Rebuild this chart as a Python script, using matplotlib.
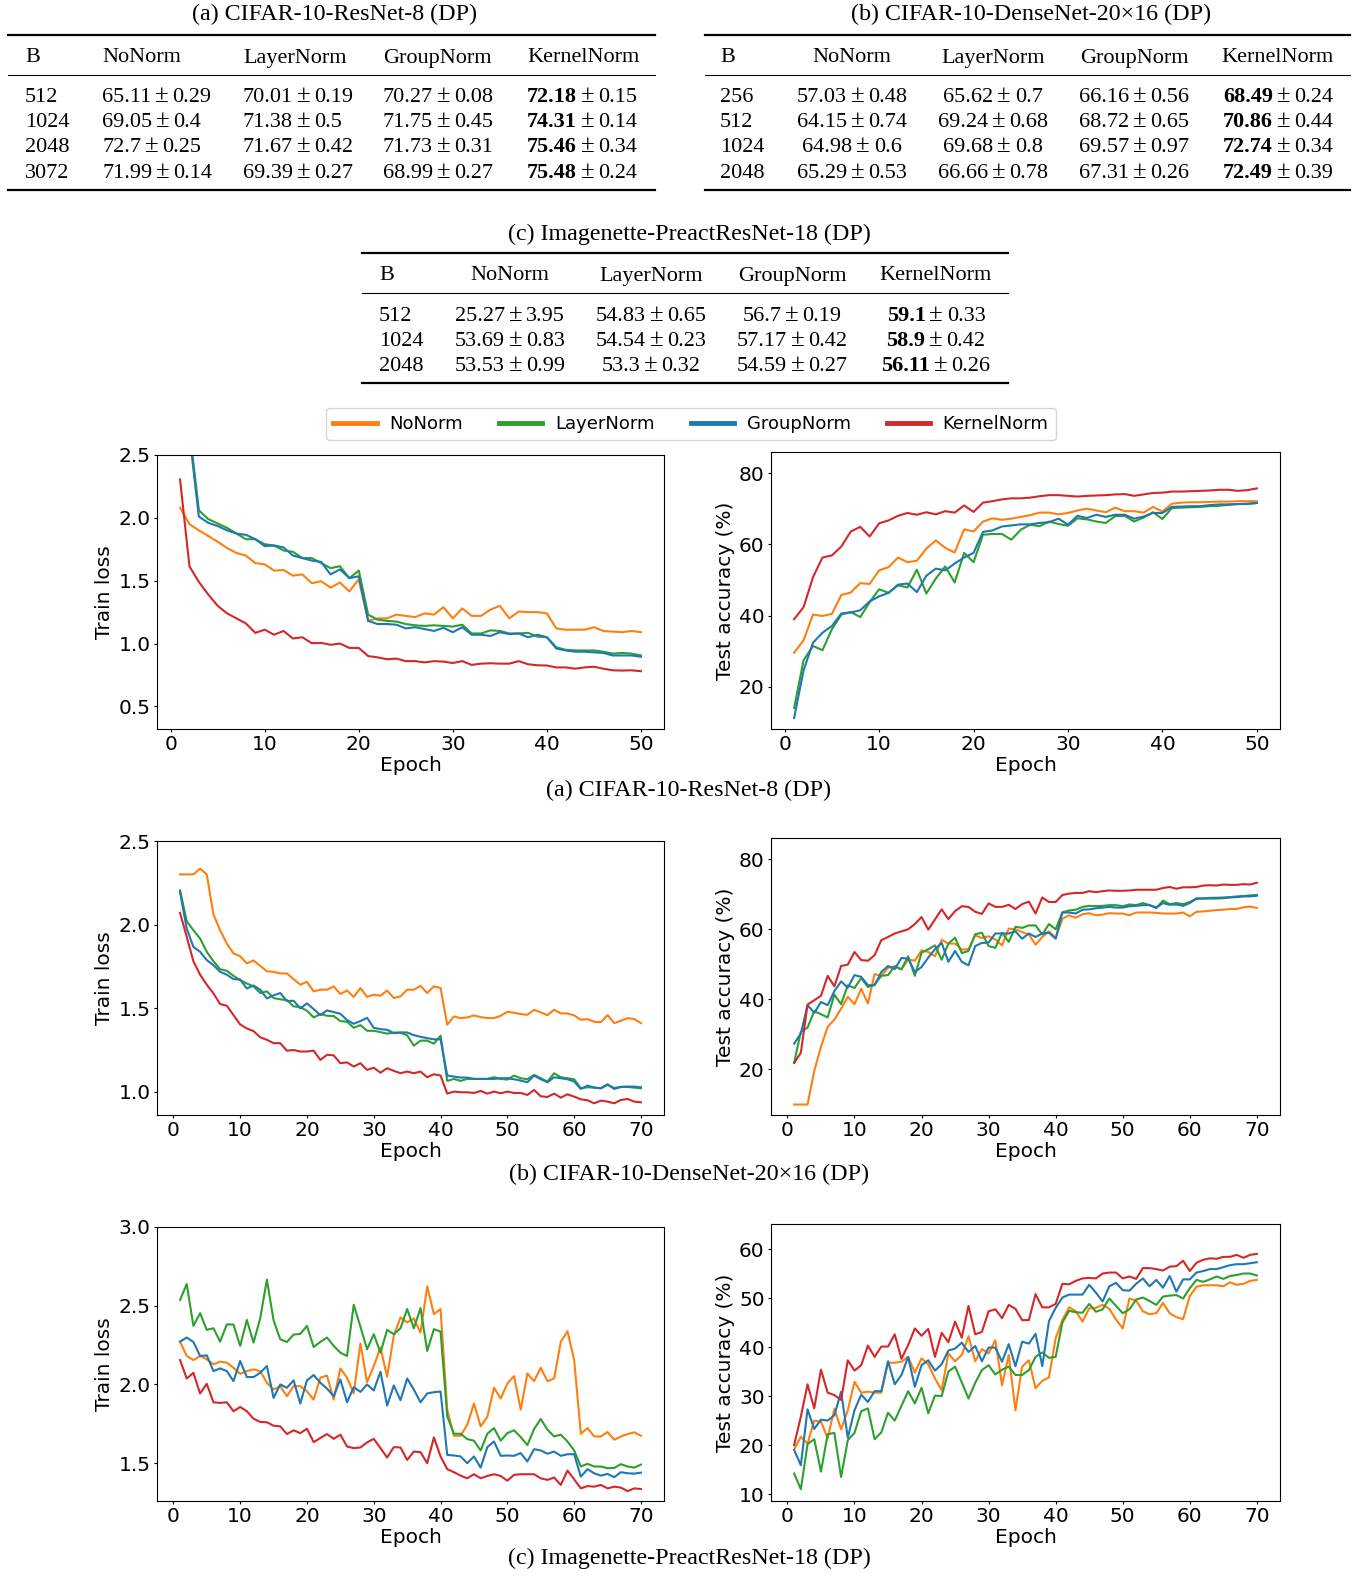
import numpy as np
import matplotlib
matplotlib.use("Agg")
import matplotlib.pyplot as plt
from matplotlib.lines import Line2D

# ---------------- data ----------------
norms = ["NoNorm", "LayerNorm", "GroupNorm", "KernelNorm"]
colors = ["#ff7f0e", "#2ca02c", "#1f77b4", "#d62728"]

tab_header = ["B", "NoNorm", "LayerNorm", "GroupNorm", "KernelNorm"]
tab_a_titles = "(a) CIFAR-10-ResNet-8 (DP)"
tab_b_titles = "(b) CIFAR-10-DenseNet-20\u00d716 (DP)"
tab_c_titles = "(c) Imagenette-PreactResNet-18 (DP)"

tab_a_B = ["512", "1024", "2048", "3072"]
tab_a_no = ["65.11\u00b10.29", "69.05\u00b10.4", "72.7\u00b10.25", "71.99\u00b10.14"]
tab_a_ln = ["70.01\u00b10.19", "71.38\u00b10.5", "71.67\u00b10.42", "69.39\u00b10.27"]
tab_a_gn = ["70.27\u00b10.08", "71.75\u00b10.45", "71.73\u00b10.31", "68.99\u00b10.27"]
tab_a_kn = ["72.18\u00b10.15", "74.31\u00b10.14", "75.46\u00b10.34", "75.48\u00b10.24"]

tab_b_B = ["256", "512", "1024", "2048"]
tab_b_no = ["57.03\u00b10.48", "64.15\u00b10.74", "64.98\u00b10.6", "65.29\u00b10.53"]
tab_b_ln = ["65.62\u00b10.7", "69.24\u00b10.68", "69.68\u00b10.8", "66.66\u00b10.78"]
tab_b_gn = ["66.16\u00b10.56", "68.72\u00b10.65", "69.57\u00b10.97", "67.31\u00b10.26"]
tab_b_kn = ["68.49\u00b10.24", "70.86\u00b10.44", "72.74\u00b10.34", "72.49\u00b10.39"]

tab_c_B = ["512", "1024", "2048"]
tab_c_no = ["25.27\u00b13.95", "53.69\u00b10.83", "53.53\u00b10.99"]
tab_c_ln = ["54.83\u00b10.65", "54.54\u00b10.23", "53.3\u00b10.32"]
tab_c_gn = ["56.7\u00b10.19", "57.17\u00b10.42", "54.59\u00b10.27"]
tab_c_kn = ["59.1\u00b10.33", "58.9\u00b10.42", "56.11\u00b10.26"]

# (a) CIFAR-10-ResNet-8, 50 epochs
loss_a_no = [2.08,1.95,1.90,1.856,1.81,1.76,1.72,1.70,1.64,1.63,
             1.58,1.585,1.54,1.55,1.48,1.495,1.445,1.485,1.415,1.51,
             1.18,1.20,1.20,1.23,1.22,1.21,1.24,1.23,1.29,1.20,
             1.28,1.22,1.22,1.27,1.30,1.20,1.255,1.25,1.25,1.24,
             1.12,1.11,1.11,1.11,1.13,1.10,1.095,1.09,1.10,1.09]
loss_a_ln = [3.0,2.71,2.06,1.99,1.955,1.92,1.875,1.83,1.83,1.79,
             1.78,1.74,1.73,1.68,1.68,1.64,1.60,1.615,1.52,1.58,
             1.23,1.19,1.18,1.175,1.155,1.145,1.14,1.145,1.14,1.135,
             1.15,1.08,1.08,1.105,1.10,1.08,1.08,1.085,1.055,1.05,
             0.97,0.95,0.945,0.945,0.945,0.935,0.92,0.925,0.92,0.905]
loss_a_gn = [2.95,2.66,2.01,1.96,1.935,1.90,1.875,1.865,1.83,1.775,
             1.78,1.765,1.70,1.68,1.66,1.65,1.55,1.59,1.52,1.535,
             1.18,1.155,1.155,1.15,1.12,1.13,1.115,1.10,1.125,1.09,
             1.13,1.07,1.07,1.06,1.09,1.075,1.08,1.05,1.07,1.05,
             0.96,0.945,0.935,0.935,0.93,0.925,0.905,0.905,0.905,0.895]
loss_a_kn = [2.306,1.614,1.49,1.39,1.30,1.24,1.20,1.16,1.085,1.11,
             1.07,1.10,1.04,1.05,1.003,1.005,0.99,1.0,0.965,0.965,
             0.90,0.89,0.875,0.88,0.86,0.86,0.85,0.86,0.856,0.845,
             0.86,0.83,0.84,0.843,0.84,0.84,0.86,0.835,0.827,0.825,
             0.81,0.81,0.80,0.81,0.815,0.80,0.787,0.785,0.787,0.78]
acc_a_no = [29.6,33.1,40.3,39.9,40.5,45.8,46.5,49.1,48.9,52.7,
            53.6,56.3,55.0,55.4,58.8,61.1,59.0,57.7,64.2,63.6,
            66.4,67.3,66.9,67.2,67.7,68.2,68.9,68.9,68.4,68.8,
            69.5,70.0,69.5,69.0,70.3,69.3,69.3,68.9,70.5,69.2,
            71.4,71.7,71.8,71.8,71.9,72.0,72.0,72.1,72.1,72.1]
acc_a_ln = [14.1,27.5,31.5,30.3,36.2,40.3,41.0,39.6,43.8,47.4,
            46.4,48.5,47.9,52.9,46.2,50.4,53.8,49.3,57.6,55.0,
            62.7,62.9,62.9,61.3,64.1,65.5,65.1,66.4,65.7,65.2,
            67.3,67.0,66.4,66.0,67.9,68.0,66.4,67.5,69.0,67.1,
            70.2,70.3,70.4,70.5,70.7,70.8,71.1,71.3,71.3,71.6]
acc_a_gn = [11.3,24.7,32.4,35.2,37.1,40.6,40.9,41.5,44.0,45.4,
            46.4,48.7,49.0,46.6,51.2,53.2,52.7,54.6,56.3,57.6,
            63.5,63.9,65.0,65.3,65.6,65.6,66.0,66.2,67.2,65.5,
            68.0,67.4,68.3,67.7,68.3,68.3,67.2,67.8,68.8,68.8,
            70.5,70.6,70.7,70.7,71.0,71.2,71.2,71.3,71.4,71.6]
acc_a_kn = [39.0,42.4,50.8,56.3,56.9,59.4,63.6,64.9,62.2,65.9,
            66.7,68.0,68.8,68.3,69.0,68.4,69.3,68.9,70.9,69.1,
            71.7,72.1,72.6,72.9,72.9,73.1,73.5,73.8,73.8,73.6,
            73.4,73.6,73.7,73.8,74.0,74.1,73.6,74.0,74.4,74.5,
            74.8,74.8,74.9,75.0,75.1,75.3,75.3,75.0,75.2,75.7]

# (b) CIFAR-10-DenseNet-20x16, 70 epochs
loss_b_no = [2.30,2.30,2.30,2.335,2.30,2.06,1.966,1.886,1.827,1.81,
             1.767,1.785,1.753,1.72,1.717,1.707,1.707,1.673,1.64,1.657,
             1.60,1.61,1.61,1.63,1.584,1.605,1.566,1.62,1.567,1.58,
             1.574,1.605,1.56,1.57,1.61,1.61,1.633,1.59,1.63,1.62,
             1.40,1.45,1.44,1.444,1.456,1.446,1.44,1.44,1.454,1.478,
             1.472,1.464,1.46,1.49,1.474,1.458,1.49,1.468,1.468,1.456,
             1.43,1.434,1.418,1.416,1.458,1.41,1.424,1.44,1.434,1.41]
loss_b_ln = [2.205,2.02,1.966,1.916,1.837,1.78,1.733,1.723,1.693,1.667,
             1.647,1.63,1.59,1.60,1.56,1.552,1.548,1.51,1.506,1.484,
             1.444,1.464,1.454,1.452,1.422,1.418,1.382,1.398,1.364,1.364,
             1.356,1.347,1.353,1.353,1.337,1.275,1.305,1.305,1.287,1.335,
             1.064,1.076,1.064,1.076,1.076,1.076,1.076,1.086,1.076,1.072,
             1.096,1.08,1.074,1.10,1.08,1.06,1.11,1.086,1.08,1.074,
             1.02,1.026,1.024,1.02,1.04,1.022,1.028,1.028,1.024,1.02]
loss_b_gn = [2.195,1.976,1.866,1.837,1.787,1.757,1.717,1.70,1.673,1.671,
             1.617,1.635,1.61,1.558,1.576,1.59,1.542,1.544,1.498,1.528,
             1.494,1.458,1.486,1.476,1.466,1.428,1.406,1.422,1.442,1.382,
             1.374,1.37,1.35,1.354,1.354,1.338,1.328,1.32,1.313,1.313,
             1.096,1.09,1.084,1.084,1.076,1.076,1.076,1.076,1.08,1.08,
             1.074,1.066,1.056,1.096,1.074,1.056,1.086,1.08,1.074,1.06,
             1.016,1.036,1.024,1.02,1.044,1.016,1.028,1.03,1.03,1.026]
loss_b_kn = [2.07,1.926,1.78,1.70,1.64,1.588,1.524,1.514,1.458,1.402,
             1.378,1.362,1.325,1.31,1.29,1.29,1.245,1.249,1.24,1.24,
             1.245,1.19,1.22,1.217,1.17,1.175,1.15,1.17,1.13,1.143,
             1.113,1.14,1.124,1.11,1.12,1.11,1.12,1.086,1.104,1.096,
             0.988,1.0,0.996,0.996,0.992,1.004,0.988,1.0,0.99,1.0,
             0.992,0.992,0.98,1.01,0.972,0.968,0.988,0.964,0.984,0.97,
             0.954,0.948,0.93,0.946,0.94,0.93,0.95,0.956,0.94,0.936]
acc_b_no = [9.9,9.9,9.9,19.5,26.4,32.1,34.2,37.3,40.7,38.6,
            43.0,38.8,47.2,46.7,49.0,49.4,48.6,51.4,51.0,54.0,
            53.5,52.3,57.0,55.9,55.9,54.2,54.3,58.3,57.5,58.0,
            57.1,55.4,60.2,60.0,59.2,58.5,55.6,57.8,59.4,57.5,
            63.0,64.0,63.3,64.3,64.6,64.0,64.2,64.6,64.5,64.5,
            64.0,64.8,64.8,64.8,64.7,64.5,64.5,64.5,64.8,63.7,
            65.0,65.1,65.3,65.5,65.6,65.8,65.8,66.3,66.5,66.1]
acc_b_ln = [21.8,30.7,31.9,36.6,35.7,34.8,41.3,38.6,44.0,43.2,
            46.1,43.5,44.2,46.7,46.9,49.4,48.5,52.3,46.7,53.3,
            54.3,55.4,51.3,55.9,57.6,53.2,53.8,58.6,59.0,55.2,
            54.7,59.0,56.4,60.7,60.4,61.1,61.1,58.5,61.5,60.0,
            64.8,65.4,65.6,66.4,66.7,66.6,66.7,66.9,66.9,66.6,
            67.1,66.9,67.5,66.9,66.1,68.2,67.2,67.5,67.2,67.8,
            68.8,68.8,69.0,69.0,69.1,69.2,69.4,69.5,69.7,69.8]
acc_b_gn = [27.3,30.2,38.3,36.1,39.2,38.3,42.3,45.1,43.3,46.9,
            46.4,44.0,44.0,47.8,49.5,48.6,51.8,51.6,47.8,49.2,
            51.9,54.3,56.1,50.7,53.8,50.7,49.7,55.2,56.1,56.2,
            58.8,58.8,58.8,59.4,57.3,58.8,57.8,58.8,59.0,57.3,
            64.8,64.8,64.5,65.6,65.7,66.0,66.2,66.4,66.2,66.2,
            66.6,66.7,66.9,66.9,66.2,67.5,67.0,67.1,66.7,67.5,
            68.8,68.8,68.8,68.8,68.9,69.1,69.2,69.4,69.4,69.6]
acc_b_kn = [21.8,24.7,38.5,39.7,41.0,46.7,43.7,49.5,49.9,53.5,
            51.2,51.0,52.6,56.9,57.8,58.8,59.4,60.0,61.5,63.5,
            59.9,62.8,65.7,62.9,65.2,66.6,66.4,65.0,64.4,67.4,
            66.4,66.4,67.0,65.8,67.2,67.9,64.5,69.1,67.8,67.8,
            69.8,70.2,70.4,70.4,70.9,70.6,70.9,71.1,71.0,71.0,
            71.1,71.3,71.3,71.3,71.3,71.8,72.1,71.6,72.0,72.0,
            72.1,72.5,72.6,72.5,72.8,72.7,72.7,72.9,72.8,73.3]

# (c) Imagenette-PreactResNet-18, 70 epochs
loss_c_no = [2.272,2.181,2.155,2.181,2.16,2.128,2.145,2.138,2.106,2.068,
             2.085,2.096,2.085,2.011,1.968,1.989,1.926,1.989,1.989,1.957,
             1.904,2.043,2.057,1.904,2.102,2.043,1.943,2.26,2.015,2.117,
             2.234,2.049,2.309,2.426,2.394,2.419,2.33,2.623,2.447,2.479,
             1.84,1.674,1.674,1.745,1.879,1.734,1.794,1.979,1.911,2.006,
             2.053,1.84,2.07,2.021,2.106,2.021,2.038,2.272,2.338,2.155,
             1.687,1.723,1.67,1.67,1.698,1.649,1.67,1.685,1.696,1.674]
loss_c_ln = [2.536,2.638,2.372,2.453,2.347,2.357,2.272,2.381,2.381,2.245,
             2.41,2.266,2.42,2.666,2.408,2.287,2.27,2.317,2.321,2.372,
             2.238,2.27,2.298,2.245,2.202,2.181,2.506,2.368,2.223,2.319,
             2.202,2.347,2.319,2.357,2.479,2.357,2.485,2.213,2.351,2.336,
             1.798,1.687,1.687,1.653,1.643,1.581,1.687,1.723,1.643,1.691,
             1.709,1.666,1.615,1.717,1.781,1.713,1.670,1.681,1.638,1.581,
             1.479,1.496,1.479,1.479,1.468,1.47,1.494,1.479,1.472,1.491]
loss_c_gn = [2.272,2.298,2.27,2.181,2.185,2.085,2.102,2.085,2.021,2.149,
             2.047,2.047,2.074,2.117,1.915,2.0,1.979,2.026,1.879,2.026,
             2.06,2.011,1.974,1.926,2.032,1.887,1.983,1.953,2.0,1.962,
             2.081,1.866,1.994,1.9,2.038,1.968,1.887,1.943,1.951,1.955,
             1.553,1.549,1.543,1.50,1.543,1.472,1.602,1.638,1.547,1.549,
             1.547,1.564,1.511,1.589,1.581,1.560,1.574,1.547,1.557,1.557,
             1.415,1.462,1.436,1.421,1.432,1.411,1.443,1.436,1.434,1.440]
loss_c_kn = [2.155,2.038,2.074,1.943,2.004,1.887,1.883,1.887,1.83,1.857,
             1.83,1.783,1.762,1.76,1.738,1.734,1.685,1.709,1.691,1.719,
             1.634,1.66,1.685,1.655,1.681,1.606,1.596,1.60,1.632,1.655,
             1.596,1.536,1.602,1.60,1.521,1.574,1.57,1.50,1.664,1.543,
             1.462,1.443,1.421,1.404,1.43,1.404,1.419,1.43,1.419,1.389,
             1.426,1.43,1.43,1.43,1.404,1.394,1.409,1.362,1.453,1.398,
             1.34,1.355,1.351,1.362,1.34,1.351,1.345,1.323,1.34,1.336]
acc_c_no = [19.1,21.7,20.3,25.0,24.8,21.4,27.4,23.2,27.1,32.9,
            30.7,30.9,30.7,30.7,36.8,36.8,37.0,38.0,34.8,37.7,
            36.5,33.6,31.2,38.7,37.1,38.4,42.2,37.1,39.6,38.7,
            41.4,32.2,38.4,27.1,36.0,37.3,31.6,33.1,33.8,41.8,
            45.5,48.1,47.3,45.2,47.9,48.0,48.6,47.8,45.6,43.8,
            49.9,49.5,47.3,46.7,46.9,49.0,46.9,46.1,45.7,50.4,
            52.3,52.6,52.6,52.6,52.4,53.2,52.7,52.9,53.5,53.7]
acc_c_ln = [14.2,11.0,20.2,21.2,14.6,22.2,22.5,13.5,21.0,22.5,
            26.9,27.5,21.2,22.6,26.6,25.0,28.0,31.0,28.5,31.7,
            26.5,30.1,30.0,35.0,36.0,32.8,29.5,32.7,35.3,36.3,
            34.4,35.4,36.0,34.3,34.3,35.3,38.0,38.9,37.8,38.0,
            45.0,47.4,47.1,47.0,48.8,47.2,47.7,49.9,48.4,46.9,
            47.7,49.7,50.1,49.4,48.6,50.3,50.5,50.6,49.9,52.0,
            53.7,53.3,53.8,54.4,53.9,54.5,54.7,55.0,55.0,54.6]
acc_c_gn = [19.0,15.9,27.3,23.3,25.2,25.0,26.1,30.9,21.5,27.1,
            30.3,28.8,31.0,31.0,37.1,32.4,34.3,38.0,31.9,36.3,
            37.3,35.2,36.5,39.3,39.7,40.9,39.0,40.2,37.1,39.9,
            39.9,37.0,40.6,36.1,41.1,40.7,42.7,36.1,45.3,48.0,
            50.1,50.7,50.7,50.7,52.7,51.1,49.3,52.4,53.1,51.6,
            51.5,52.9,54.0,52.4,53.7,52.1,54.5,51.3,53.8,53.8,
            55.2,55.5,55.9,55.9,56.3,56.7,56.9,56.9,57.1,57.3]
acc_c_kn = [20.0,25.8,32.4,27.5,35.4,30.7,30.2,29.2,37.3,35.2,
            36.3,40.3,38.0,40.1,40.1,42.6,37.6,40.4,43.8,42.3,
            43.7,38.0,42.9,41.0,45.2,41.9,48.4,42.6,43.1,47.3,
            47.7,45.9,48.6,47.8,45.5,45.5,50.8,48.1,48.1,48.8,
            52.9,52.8,53.5,54.0,54.1,54.0,55.0,55.2,55.2,54.0,
            54.4,53.9,56.1,56.1,55.9,55.6,56.4,56.5,57.6,55.5,
            57.2,57.8,58.1,58.0,58.4,58.4,58.8,58.2,58.8,59.0]

# ---------------- figure ----------------
W, H = 1366, 1576
DPI = 100
fig = plt.figure(figsize=(W / DPI, H / DPI), dpi=DPI)
renderer = fig.canvas.get_renderer()

def fx(x):
    return x / W

def fy(y):
    return 1 - y / H

SERIF = ["Liberation Serif", "DejaVu Serif"]
TFS = 16      # table cell size
CFS = 17.3    # caption size
TICKFS = 14.5
PM_SIZE = TFS * 1.12
PM_GAP = TFS * DPI / 72 * 3 / 18
DY = 3    # vertical nudge for header text
BASE = 5  # baseline offset for row text

def hline(x0, x1, y, lw):
    fig.add_artist(Line2D([fx(x0), fx(x1)], [fy(y), fy(y)],
                          transform=fig.transFigure, color="black", lw=lw))

def txt(x, y, s, ha="left", weight="normal", size=TFS, va="center"):
    return fig.text(fx(x), fy(y), s, ha=ha, va=va, family=SERIF,
                    fontsize=size, fontweight=weight)

def value_cell(x, y, s, ha, bold_mean=False):
    mean, std = s.split("\u00b1")
    parts = [(mean, "bold" if bold_mean else "normal", TFS, PM_GAP),
             ("\u00b1", "normal", PM_SIZE, PM_GAP),
             (std, "normal", TFS, 0)]
    objs = []
    total = 0
    for p, wgt, size, gap in parts:
        t = fig.text(0, fy(y + BASE), p, va="baseline", family=SERIF,
                     fontsize=size, fontweight=wgt)
        w = t.get_window_extent(renderer).width
        objs.append((t, w, gap))
        total += w + gap
    x0 = x if ha == "left" else x - total / 2
    for t, w, gap in objs:
        t.set_x(fx(x0))
        x0 += w + gap

def table(title, title_x, title_y, x0, x1, y_top, y_head, y_mid, rows_y, y_bot,
          bx, colx, ha, B, no, ln, gn, kn):
    txt(title_x, title_y + 1, title, ha="center", size=CFS)
    hline(x0, x1, y_top, 1.6)
    hline(x0, x1, y_mid, 0.8)
    hline(x0, x1, y_bot, 1.6)
    txt(bx, y_head + DY, tab_header[0])
    for cx, h in zip(colx, tab_header[1:]):
        txt(cx, y_head + DY, h, ha=ha)
    for i, ry in enumerate(rows_y):
        ry = ry + DY
        txt(bx, ry + BASE, B[i], va="baseline")
        value_cell(colx[0], ry, no[i], ha)
        value_cell(colx[1], ry, ln[i], ha)
        value_cell(colx[2], ry, gn[i], ha)
        value_cell(colx[3], ry, kn[i], ha, bold_mean=True)

table(tab_a_titles, 334, 13, 8, 655, 35, 55, 75, [94, 119, 144, 170], 190,
      25, [102, 243, 383, 527], "left",
      tab_a_B, tab_a_no, tab_a_ln, tab_a_gn, tab_a_kn)
table(tab_b_titles, 1031, 13, 705, 1350, 35, 55, 75, [94, 119, 144, 170], 190,
      720, [852, 993, 1134, 1278], "center",
      tab_b_B, tab_b_no, tab_b_ln, tab_b_gn, tab_b_kn)
table(tab_c_titles, 689, 233, 362, 1008, 253, 273, 293, [313, 338, 363], 383,
      379, [510, 651, 792, 936], "center",
      tab_c_B, tab_c_no, tab_c_ln, tab_c_gn, tab_c_kn)

# legend
handles = [Line2D([], [], color=c, lw=3.5) for c in colors]
fig.legend(handles, norms, loc="center", bbox_to_anchor=(fx(691), fy(424)),
           ncol=4, fontsize=13, handlelength=2.4, columnspacing=2.0,
           handletextpad=0.7, frameon=True)

# plots
def add_axes(x0, y0, x1, y1):
    return fig.add_axes([fx(x0), fy(y1), fx(x1) - fx(x0), (y1 - y0) / H])

panels = [
    ([loss_a_no, loss_a_ln, loss_a_gn, loss_a_kn], [acc_a_no, acc_a_ln, acc_a_gn, acc_a_kn],
     455, 452, 729, (0.32, 2.5), (8.2, 85.9), [0.5, 1.0, 1.5, 2.0, 2.5], [20, 40, 60, 80],
     tab_a_titles, 790),
    ([loss_b_no, loss_b_ln, loss_b_gn, loss_b_kn], [acc_b_no, acc_b_ln, acc_b_gn, acc_b_kn],
     841, 838, 1115, (0.86, 2.5), (6.9, 86.1), [1.0, 1.5, 2.0, 2.5], [20, 40, 60, 80],
     tab_b_titles, 1174),
    ([loss_c_no, loss_c_ln, loss_c_gn, loss_c_kn], [acc_c_no, acc_c_ln, acc_c_gn, acc_c_kn],
     1227, 1224, 1501, (1.26, 3.0), (8.6, 65.1), [1.5, 2.0, 2.5, 3.0], [10, 20, 30, 40, 50, 60],
     tab_c_titles, 1558),
]

for losses, accs, ytl, ytr, yb, lyl, ayl, lt, at, cap, capy in panels:
    axl = add_axes(157, ytl, 664, yb)
    axr = add_axes(771, ytr, 1280, yb)
    for ser, c in zip(losses, colors):
        ep = np.arange(1, len(ser) + 1)
        axl.plot(ep, ser, color=c, lw=1.5)
    for ser, c in zip(accs, colors):
        ep = np.arange(1, len(ser) + 1)
        axr.plot(ep, ser, color=c, lw=1.5)
    axl.set_ylim(*lyl)
    axr.set_ylim(*ayl)
    axl.set_yticks(lt)
    axr.set_yticks(at)
    axl.set_ylabel("Train loss", fontsize=TICKFS, labelpad=3)
    axr.set_ylabel("Test accuracy (%)", fontsize=TICKFS, labelpad=3)
    for ax in (axl, axr):
        ax.set_xlabel("Epoch", fontsize=TICKFS, labelpad=1)
        ax.tick_params(labelsize=TICKFS, length=2.5, pad=2)
    txt(689, capy, cap, ha="center", size=CFS)

fig.savefig("out.png", dpi=DPI)
